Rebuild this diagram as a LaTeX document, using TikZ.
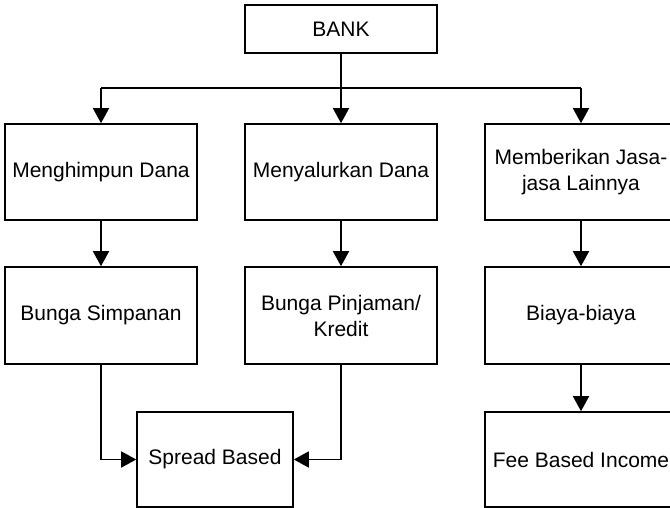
\documentclass[tikz,border=0pt]{standalone}
\usepackage{fontspec}
\setmainfont{Liberation Sans}
\usetikzlibrary{arrows.meta}

\tikzset{
    kotak/.style={draw=black, line width=1.6pt, minimum width=192pt, minimum height=96pt,
        align=center, inner sep=2pt, font=\fontsize{21}{26}\selectfont},
    garis/.style={line width=1.6pt},
    panah/.style={garis, -{Triangle[length=15pt,width=16pt]}}
}

\begin{document}
\begin{tikzpicture}[x=1pt, y=-1pt]

    \useasboundingbox (0,0) rectangle (670,508);

    % kotak utama
    \node[kotak, minimum height=48pt] (bank) at (341,29) {BANK};

    % baris pertama
    \node[kotak] (himpun) at (101,172) {Menghimpun Dana};
    \node[kotak] (salur) at (341,172) {Menyalurkan Dana};
    \node[kotak] (jasa) at (581,172) {Memberikan Jasa-\\jasa Lainnya};

    % baris kedua
    \node[kotak, minimum height=97pt] (simpanan) at (101,315.5) {Bunga Simpanan};
    \node[kotak, minimum height=97pt] (pinjaman) at (341,315.5) {Bunga Pinjaman/\\Kredit};
    \node[kotak, minimum height=97pt] (biaya) at (581,315.5) {Biaya-biaya};

    % baris ketiga
    \node[kotak, minimum width=156pt, minimum height=95pt] (spread) at (215,459.5) {Spread Based};
    \node[kotak, minimum height=95pt] (fee) at (581,459.5) {Fee Based Income};

    % percabangan dari BANK
    \coordinate (cabang) at (341,88);
    \draw[garis] (bank) -- (cabang);
    \draw[garis] (cabang -| himpun) -- (cabang -| jasa);
    \draw[panah] (cabang -| himpun) -- (himpun);
    \draw[panah] (cabang) -- (salur);
    \draw[panah] (cabang -| jasa) -- (jasa);

    % panah ke bawah
    \draw[panah] (himpun) -- (simpanan);
    \draw[panah] (salur) -- (pinjaman);
    \draw[panah] (jasa) -- (biaya);
    \draw[panah] (biaya) -- (fee);

    % menuju spread based
    \draw[panah] (simpanan) |- (spread);
    \draw[panah] (pinjaman) |- (spread);

\end{tikzpicture}
\end{document}
